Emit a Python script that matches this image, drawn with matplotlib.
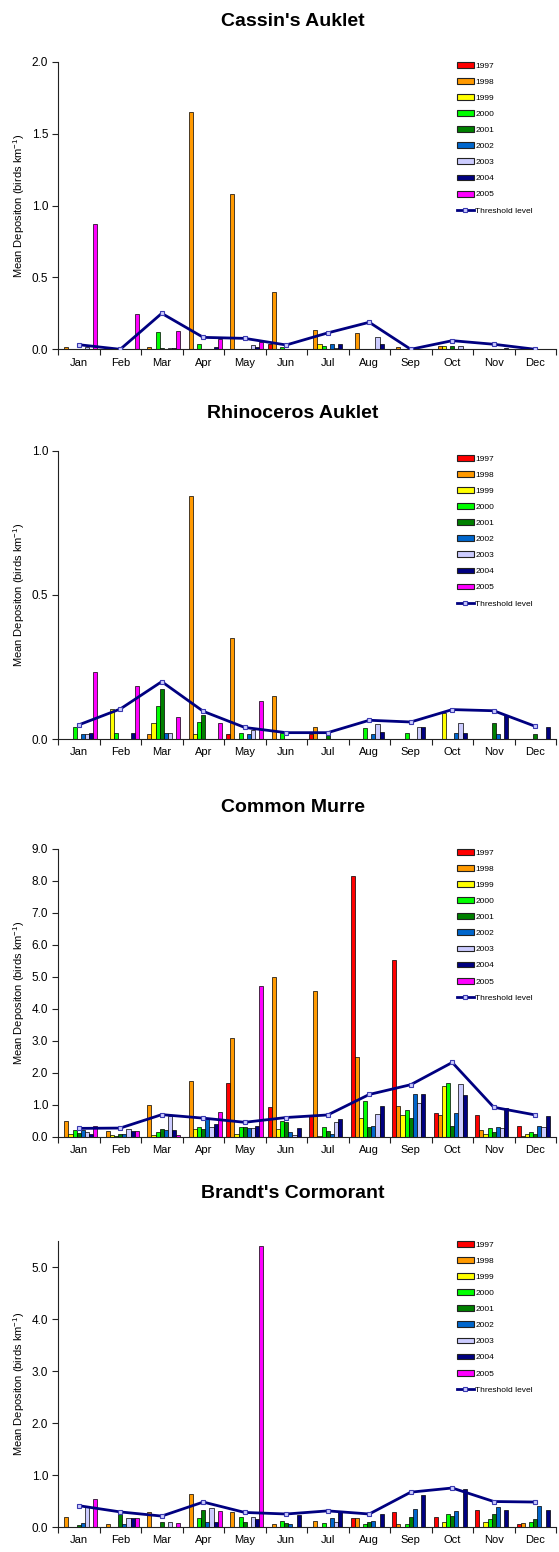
import numpy as np
import matplotlib
matplotlib.use('Agg')
import matplotlib.pyplot as plt
from matplotlib.patches import Patch
from matplotlib.lines import Line2D
from matplotlib.ticker import FormatStrFormatter

plt.rcParams['font.family'] = ['Liberation Sans', 'DejaVu Sans']
plt.rcParams['mathtext.fontset'] = 'custom'
plt.rcParams['mathtext.rm'] = 'Liberation Sans'
plt.rcParams['mathtext.it'] = 'Liberation Sans'

months = ['Jan', 'Feb', 'Mar', 'Apr', 'May', 'Jun', 'Jul', 'Aug', 'Sep', 'Oct', 'Nov', 'Dec']
years = ['1997', '1998', '1999', '2000', '2001', '2002', '2003', '2004', '2005']
year_colors = ['#ff0000', '#ff9900', '#ffff00', '#00ff00', '#008000',
               '#0066cc', '#ccccff', '#000080', '#ff00ff']

# one row per year (1997..2005), one value per month
cassin = [
    [0, 0, 0, 0, 0, 0.04, 0, 0, 0, 0, 0, 0],
    [0.015, 0, 0.015, 1.65, 1.08, 0.40, 0.135, 0.11, 0.015, 0.02, 0, 0],
    [0, 0, 0, 0, 0, 0, 0.035, 0, 0, 0.02, 0, 0],
    [0, 0, 0.123, 0.035, 0, 0.015, 0.02, 0, 0, 0, 0, 0],
    [0, 0, 0.012, 0, 0, 0, 0, 0, 0, 0.02, 0, 0],
    [0, 0, 0, 0, 0, 0, 0.04, 0, 0, 0, 0, 0],
    [0.015, 0, 0.012, 0, 0.03, 0, 0.012, 0.088, 0, 0.02, 0, 0],
    [0, 0, 0.012, 0.015, 0.015, 0, 0.035, 0.035, 0, 0, 0.012, 0],
    [0.87, 0.245, 0.127, 0.072, 0.05, 0, 0, 0, 0, 0, 0, 0],
]
cassin_threshold = [0.032, 0, 0.25, 0.083, 0.076, 0.03, 0.114, 0.188, 0, 0.06, 0.035, 0]

rhino = [
    [0, 0, 0, 0, 0.017, 0, 0.016, 0, 0, 0, 0, 0],
    [0, 0, 0.018, 0.843, 0.349, 0.148, 0.042, 0, 0, 0, 0, 0],
    [0, 0.104, 0.054, 0.016, 0, 0, 0, 0, 0, 0.091, 0, 0],
    [0.043, 0.02, 0.113, 0.058, 0.021, 0.02, 0, 0.038, 0.021, 0, 0, 0],
    [0, 0, 0.173, 0.082, 0, 0, 0.02, 0, 0, 0, 0.057, 0.016],
    [0.016, 0, 0.021, 0, 0.017, 0, 0, 0.016, 0, 0.021, 0.016, 0],
    [0.016, 0, 0.021, 0, 0.031, 0, 0, 0.052, 0.042, 0.054, 0, 0],
    [0.021, 0.021, 0, 0, 0, 0, 0, 0.023, 0.042, 0.021, 0.083, 0.042],
    [0.231, 0.184, 0.075, 0.057, 0.133, 0, 0, 0, 0, 0, 0, 0],
]
rhino_threshold = [0.049, 0.104, 0.199, 0.096, 0.040, 0.022, 0.022, 0.065, 0.059, 0.102, 0.098, 0.044]

murre = [
    [0, 0, 0, 0, 1.67, 0.92, 0.65, 8.16, 5.51, 0.73, 0.67, 0.35],
    [0.48, 0.167, 0.98, 1.73, 3.07, 5.0, 4.55, 2.48, 0.96, 0.67, 0.2, 0.02],
    [0.07, 0.06, 0.05, 0.23, 0.09, 0.23, 0.03, 0.60, 0.67, 1.60, 0.07, 0.09],
    [0.2, 0.02, 0.135, 0.31, 0.29, 0.48, 0.29, 1.11, 0.83, 1.67, 0.26, 0.135],
    [0.125, 0.10, 0.24, 0.25, 0.31, 0.45, 0.167, 0.30, 0.60, 0.35, 0.15, 0.10],
    [0.21, 0.07, 0.21, 0.54, 0.27, 0.15, 0.07, 0.32, 1.35, 0.74, 0.31, 0.32],
    [0.16, 0.24, 0.65, 0.31, 0.28, 0.06, 0.46, 0.70, 1.04, 1.635, 0.26, 0.30],
    [0.07, 0.167, 0.21, 0.385, 0.32, 0.26, 0.54, 0.96, 1.32, 1.30, 0.90, 0.635],
    [0.35, 0.167, 0.05, 0.77, 4.71, 0, 0, 0, 0, 0, 0, 0],
]
murre_threshold = [0.26, 0.27, 0.69, 0.58, 0.45, 0.60, 0.68, 1.32, 1.625, 2.32, 0.92, 0.68]

brandt = [
    [0, 0, 0, 0, 0, 0, 0, 0.17, 0.29, 0.2, 0.33, 0.05],
    [0.2, 0.05, 0.28, 0.64, 0.29, 0.06, 0.12, 0.18, 0.05, 0, 0, 0.08],
    [0, 0, 0, 0, 0, 0, 0, 0, 0, 0.1, 0.1, 0],
    [0, 0, 0, 0.18, 0.2, 0.12, 0.08, 0.05, 0.05, 0.25, 0.15, 0.1],
    [0.03, 0.3, 0.1, 0.33, 0.1, 0.08, 0, 0.1, 0.2, 0.22, 0.25, 0.15],
    [0.08, 0.05, 0, 0.1, 0, 0.06, 0.18, 0.12, 0.35, 0.3, 0.39, 0.41],
    [0.40, 0.18, 0.09, 0.37, 0.2, 0, 0.1, 0, 0, 0, 0, 0],
    [0, 0.18, 0, 0.1, 0.15, 0.23, 0.28, 0.25, 0.62, 0.73, 0.32, 0.32],
    [0.53, 0.17, 0.08, 0.31, 5.4, 0, 0, 0, 0, 0, 0, 0],
]
brandt_threshold = [0.41, 0.29, 0.21, 0.48, 0.28, 0.25, 0.31, 0.25, 0.67, 0.75, 0.49, 0.48]

W, H = 559, 1552


def fy(py):
    return 1 - py / H


# title, bars, threshold, ymax, ystep, axes top px, axes bottom px, title px, legend top px
panels = [
    ("Cassin's Auklet", cassin, cassin_threshold, 2.0, 0.5, 61.7, 349.3, 22, 62),
    ("Rhinoceros Auklet", rhino, rhino_threshold, 1.0, 0.5, 450.7, 739.0, 413, 455),
    ("Common Murre", murre, murre_threshold, 9.0, 1.0, 848.7, 1136.7, 807, 849),
    ("Brandt's Cormorant", brandt, brandt_threshold, 5.5, 1.0, 1241.0, 1527.0, 1193, 1241),
]

fig = plt.figure(figsize=(W / 100, H / 100), dpi=100)
x = np.arange(12)
bw = 0.099

for title, bars, thr, ymax, ystep, top, bot, ty, ly in panels:
    ax = fig.add_axes([58 / W, fy(bot), 498 / W, (bot - top) / H])
    handles = []
    for i, (yr, col) in enumerate(zip(years, year_colors)):
        vals = np.array(bars[i], dtype=float)
        m = vals > 0
        ax.bar(x[m] + (i - 4) * bw, vals[m], width=bw, color=col,
               edgecolor='black', linewidth=0.5, zorder=2)
        handles.append(Patch(facecolor=col, edgecolor='#222222', linewidth=0.8, label=yr))
    ax.plot(x, thr, color='#000080', lw=2, marker='s', ms=3.5, mfc='#ccccff',
            mec='#3a3ab0', mew=0.8, zorder=3)
    handles.append(Line2D([], [], color='#000080', lw=2, marker='s', ms=3.5, mfc='#ccccff',
                          mec='#3a3ab0', mew=0.8, label='Threshold level'))

    ax.set_xlim(-0.5, 11.5)
    ax.set_ylim(0, ymax)
    for s in ['top', 'right']:
        ax.spines[s].set_visible(False)
    for s in ['left', 'bottom']:
        ax.spines[s].set_linewidth(0.8)
        ax.spines[s].set_color('#222222')

    ax.set_xticks(x)
    ax.set_xticklabels(months, fontsize=8)
    ax.set_xticks(np.arange(-0.5, 12, 1), minor=True)
    ax.tick_params(axis='x', which='major', length=0, pad=6)
    ax.tick_params(axis='x', which='minor', length=4, width=0.8, direction='out', color='#222222')
    ax.set_yticks(np.arange(0, ymax + 1e-9, ystep))
    ax.yaxis.set_major_formatter(FormatStrFormatter('%.1f'))
    ax.tick_params(axis='y', length=4, width=0.8, pad=3, labelsize=8.5, color='#222222')

    ax.set_ylabel('Mean Depositon (birds km$^{-1}$)', fontsize=8)
    ax.yaxis.set_label_coords((27 - 58) / 498, 0.5)

    fig.text(0.524, fy(ty), title, ha='center', va='center', fontsize=14, fontweight='bold')

    fig.legend(handles=handles, loc='upper left', bbox_to_anchor=(457 / W, fy(ly)),
               bbox_transform=fig.transFigure, frameon=False, fontsize=6,
               handlelength=2.0, handleheight=0.7, labelspacing=0.99,
               handletextpad=0.2, borderpad=0, borderaxespad=0)

fig.savefig('out.png', dpi=100)
